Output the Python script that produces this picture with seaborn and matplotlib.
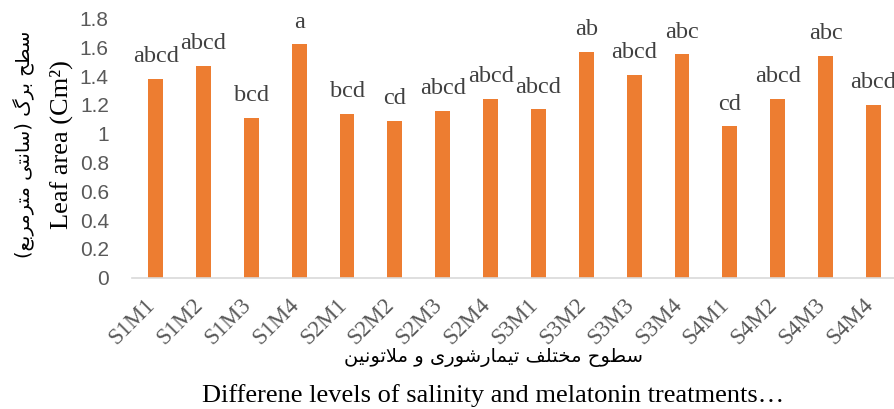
import matplotlib
matplotlib.use("Agg")
import matplotlib.pyplot as plt
import matplotlib.transforms as mtransforms
import seaborn as sns
import pandas as pd

# ---------------- data ----------------
categories = ["S1M1", "S1M2", "S1M3", "S1M4", "S2M1", "S2M2", "S2M3", "S2M4",
              "S3M1", "S3M2", "S3M3", "S3M4", "S4M1", "S4M2", "S4M3", "S4M4"]
leaf_area = [1.38, 1.47, 1.11, 1.62, 1.14, 1.09, 1.16, 1.24,
             1.17, 1.57, 1.41, 1.55, 1.05, 1.24, 1.54, 1.20]
letters = ["abcd", "abcd", "bcd", "a", "bcd", "cd", "abcd", "abcd",
           "abcd", "ab", "abcd", "abc", "cd", "abcd", "abc", "abcd"]
y_ticks = [0, 0.2, 0.4, 0.6, 0.8, 1.0, 1.2, 1.4, 1.6, 1.8]
y_tick_labels = ["0", "0.2", "0.4", "0.6", "0.8", "1", "1.2", "1.4", "1.6", "1.8"]
ylabel_fa = "سطح برگ (سانتی مترمربع)"
ylabel_en = "Leaf area (Cm²)"
xlabel_fa = "سطوح مختلف تیمارشوری و ملاتونین"
xlabel_en = "Differene levels of salinity and melatonin treatments…"

# ------------- Persian shaping (presentation forms, visual order) -------------
FORMS = {
    'ا': ('\uFE8D', '\uFE8E', None, None),
    'ب': ('\uFE8F', '\uFE90', '\uFE91', '\uFE92'),
    'ت': ('\uFE95', '\uFE96', '\uFE97', '\uFE98'),
    'ح': ('\uFEA1', '\uFEA2', '\uFEA3', '\uFEA4'),
    'خ': ('\uFEA5', '\uFEA6', '\uFEA7', '\uFEA8'),
    'ر': ('\uFEAD', '\uFEAE', None, None),
    'س': ('\uFEB1', '\uFEB2', '\uFEB3', '\uFEB4'),
    'ش': ('\uFEB5', '\uFEB6', '\uFEB7', '\uFEB8'),
    'ط': ('\uFEC1', '\uFEC2', '\uFEC3', '\uFEC4'),
    'ع': ('\uFEC9', '\uFECA', '\uFECB', '\uFECC'),
    'ف': ('\uFED1', '\uFED2', '\uFED3', '\uFED4'),
    'ل': ('\uFEDD', '\uFEDE', '\uFEDF', '\uFEE0'),
    'م': ('\uFEE1', '\uFEE2', '\uFEE3', '\uFEE4'),
    'ن': ('\uFEE5', '\uFEE6', '\uFEE7', '\uFEE8'),
    'و': ('\uFEED', '\uFEEE', None, None),
    'ی': ('\uFBFC', '\uFBFD', '\uFBFE', '\uFBFF'),
    'گ': ('\uFB92', '\uFB93', '\uFB94', '\uFB95'),
    'لا': ('\uFEFB', '\uFEFC', None, None),
}


def shape_fa(text):
    tokens, i = [], 0
    while i < len(text):
        if text[i] == 'ل' and i + 1 < len(text) and text[i + 1] == 'ا':
            tokens.append('لا'); i += 2
        else:
            tokens.append(text[i]); i += 1
    out = []
    for k, t in enumerate(tokens):
        if t not in FORMS:
            out.append(t); continue
        prev = tokens[k - 1] if k > 0 else None
        nxt = tokens[k + 1] if k + 1 < len(tokens) else None
        cp = prev in FORMS and FORMS[prev][2] is not None
        cn = FORMS[t][2] is not None and nxt in FORMS
        iso, fin, ini, med = FORMS[t]
        out.append(med if (cp and cn) else fin if cp else ini if cn else iso)
    vis = ''.join(reversed(out))
    return vis.translate(str.maketrans('()', ')('))


# ---------------- plot ----------------
sns.set_style("white")
plt.rcParams['font.family'] = ['Liberation Serif', 'DejaVu Sans']

df = pd.DataFrame({"treatment": categories, "area": leaf_area})

fig = plt.figure(figsize=(8.95, 4.09), dpi=100)
ax = fig.add_axes([131.7 / 895, 1 - 277.7 / 409, (897.4 - 131.7) / 895, (277.7 - 18.5) / 409])

sns.barplot(data=df, x="treatment", y="area", color="#ED7D31", saturation=1,
            width=0.31, ax=ax, edgecolor="none")

ax.set_ylim(0, 1.8)
ax.set_xlim(-0.5, len(categories) - 0.5)
ax.set_yticks(y_ticks)
ax.set_yticklabels(y_tick_labels, fontfamily="Liberation Sans", fontsize=15, color="#595959")
ax.tick_params(axis="y", length=0, pad=16.5)
ax.tick_params(axis="x", length=0, pad=12)
ax.set_xticks(range(len(categories)))
ax.set_xticklabels(categories, rotation=45, ha="right", fontsize=16.5, color="#595959",
                   fontfamily="Liberation Serif")
offset = mtransforms.ScaledTranslation(4 / 100, 0, fig.dpi_scale_trans)
for lab in ax.get_xticklabels():
    lab.set_transform(lab.get_transform() + offset)

for s in ["top", "right", "left"]:
    ax.spines[s].set_visible(False)
ax.spines["bottom"].set_color("#D9D9D9")
ax.spines["bottom"].set_linewidth(1.2)
ax.set_xlabel("")
ax.set_ylabel("")

for i, (v, t) in enumerate(zip(leaf_area, letters)):
    ax.annotate(t, (i, v), xytext=(0, 12), textcoords="offset points",
                ha="center", va="baseline", fontsize=17.5, color="#404040",
                fontfamily="Liberation Serif")

# axis titles
fig.text(24 / 895, 1 - 144.5 / 409, shape_fa(ylabel_fa), rotation=90, ha="center", va="center",
         fontsize=14, fontfamily="DejaVu Sans", color="black")
fig.text(61 / 895, 1 - 145 / 409, ylabel_en, rotation=90, ha="center", va="center",
         fontsize=19, fontfamily="Liberation Serif", color="black")
fig.text(494 / 895, 1 - 357.5 / 409, shape_fa(xlabel_fa), ha="center", va="center",
         fontsize=14, fontfamily="DejaVu Sans", color="black")
fig.text(493.5 / 895, 1 - 401.7 / 409, xlabel_en, ha="center", va="baseline",
         fontsize=19, fontfamily="Liberation Serif", color="black")

fig.savefig("out.png", dpi=100)
